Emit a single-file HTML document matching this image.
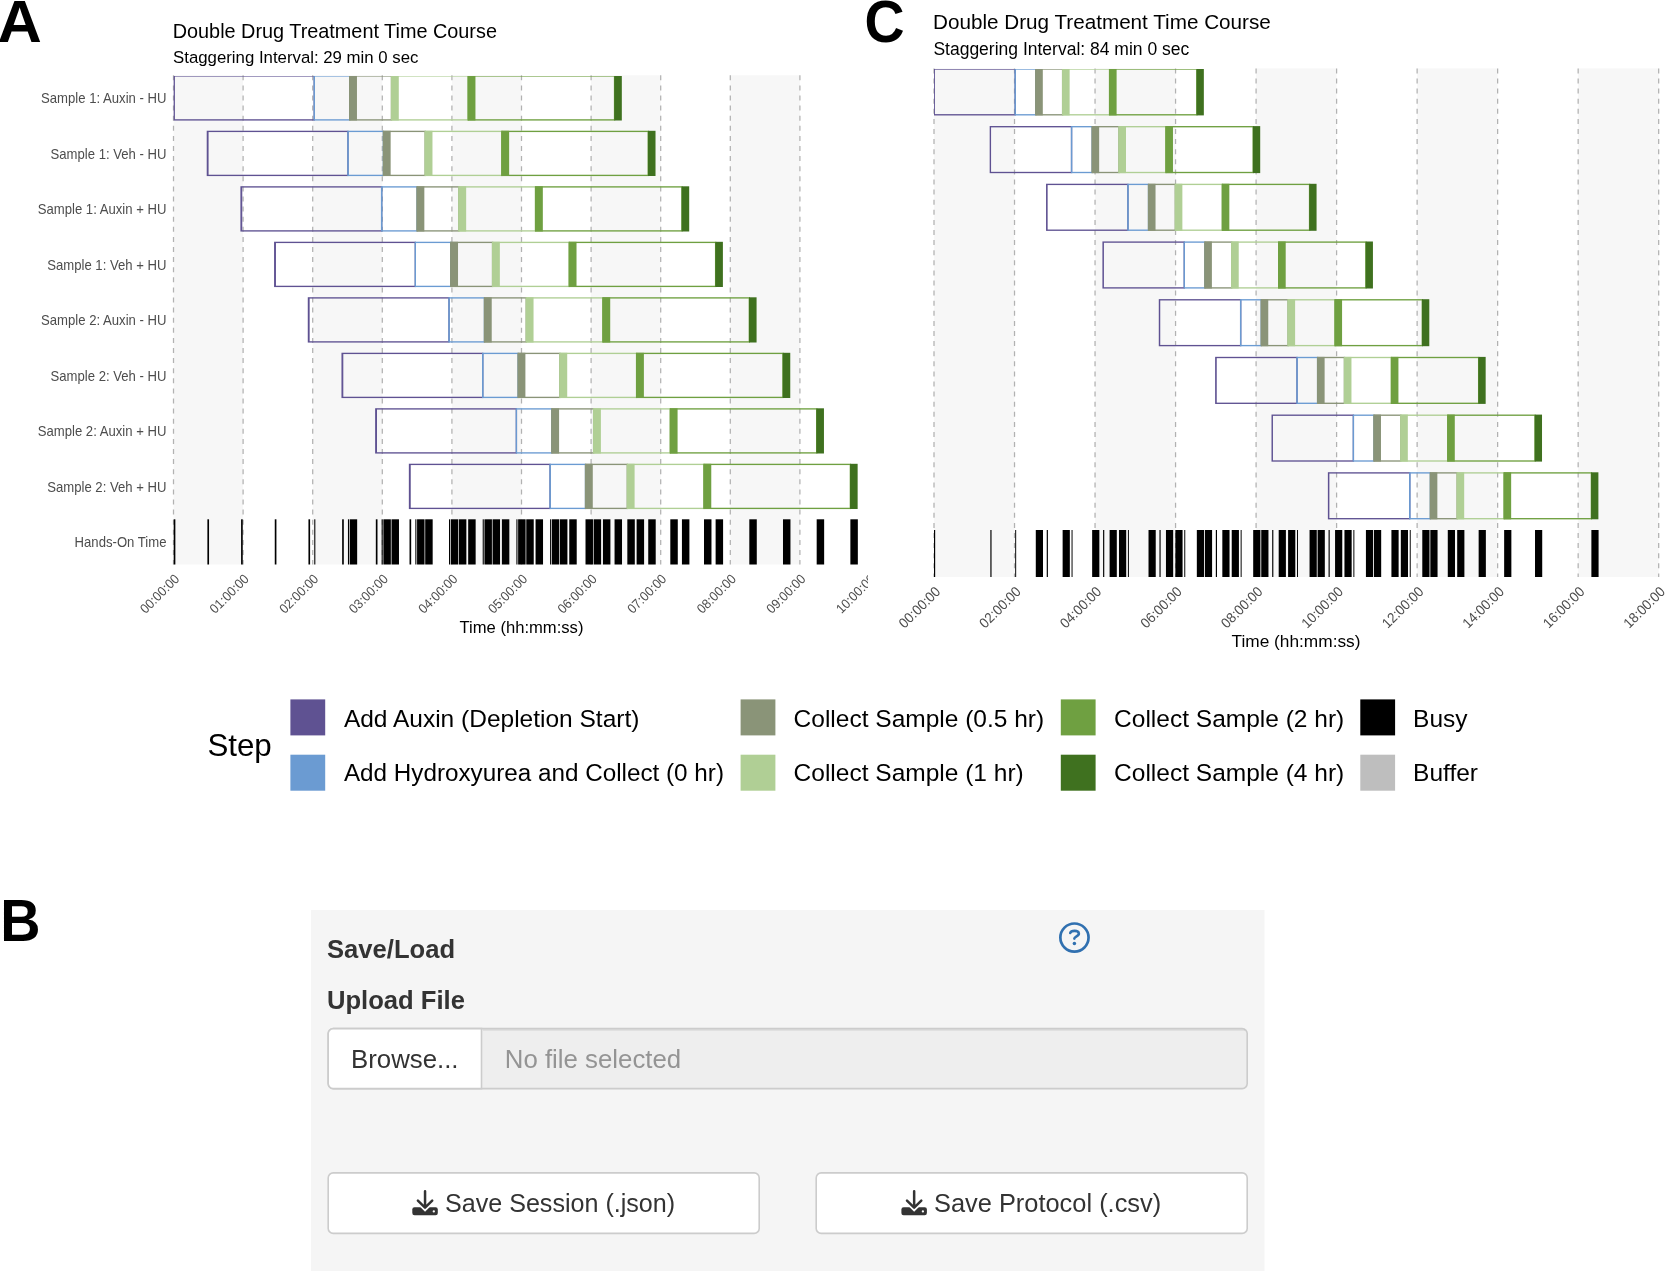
<!DOCTYPE html>
<html><head><meta charset="utf-8"><title>Figure</title>
<style>
html,body{margin:0;padding:0;background:#fff;}
body{width:1665px;height:1271px;overflow:hidden;font-family:"Liberation Sans",sans-serif;}
svg{display:block;font-family:"Liberation Sans",sans-serif;will-change:transform;}
</style></head><body>
<svg width="1665" height="1271" viewBox="0 0 1665 1271">
<rect width="1665" height="1271" fill="#fff"/>
<defs><clipPath id="clipA"><rect x="0" y="0" width="868" height="660"/></clipPath></defs>

<text transform="translate(-2.6,41.5) scale(1.04,1)" font-size="59" font-weight="700" fill="#000">A</text>
<text transform="translate(864.6,41.5) scale(0.94,1)" font-size="59" font-weight="700" fill="#000">C</text>
<text transform="translate(0.3,940.9) scale(0.95,1)" font-size="58.7" font-weight="700" fill="#000">B</text>
<g clip-path="url(#clipA)">
<g>
<rect x="173.50" y="75.30" width="69.60" height="489.20" fill="#f7f7f7"/>
<rect x="312.70" y="75.30" width="69.60" height="489.20" fill="#f7f7f7"/>
<rect x="451.90" y="75.30" width="69.60" height="489.20" fill="#f7f7f7"/>
<rect x="591.10" y="75.30" width="69.60" height="489.20" fill="#f7f7f7"/>
<rect x="730.30" y="75.30" width="69.60" height="489.20" fill="#f7f7f7"/>
<line x1="173.50" y1="75.30" x2="173.50" y2="564.50" stroke="#b2b2b2" stroke-width="1.25" stroke-dasharray="5 5.1"/>
<line x1="243.10" y1="75.30" x2="243.10" y2="564.50" stroke="#b2b2b2" stroke-width="1.25" stroke-dasharray="5 5.1"/>
<line x1="312.70" y1="75.30" x2="312.70" y2="564.50" stroke="#b2b2b2" stroke-width="1.25" stroke-dasharray="5 5.1"/>
<line x1="382.30" y1="75.30" x2="382.30" y2="564.50" stroke="#b2b2b2" stroke-width="1.25" stroke-dasharray="5 5.1"/>
<line x1="451.90" y1="75.30" x2="451.90" y2="564.50" stroke="#b2b2b2" stroke-width="1.25" stroke-dasharray="5 5.1"/>
<line x1="521.50" y1="75.30" x2="521.50" y2="564.50" stroke="#b2b2b2" stroke-width="1.25" stroke-dasharray="5 5.1"/>
<line x1="591.10" y1="75.30" x2="591.10" y2="564.50" stroke="#b2b2b2" stroke-width="1.25" stroke-dasharray="5 5.1"/>
<line x1="660.70" y1="75.30" x2="660.70" y2="564.50" stroke="#b2b2b2" stroke-width="1.25" stroke-dasharray="5 5.1"/>
<line x1="730.30" y1="75.30" x2="730.30" y2="564.50" stroke="#b2b2b2" stroke-width="1.25" stroke-dasharray="5 5.1"/>
<line x1="799.90" y1="75.30" x2="799.90" y2="564.50" stroke="#b2b2b2" stroke-width="1.25" stroke-dasharray="5 5.1"/>
<clipPath id="pc173"><rect x="173.70" y="75.90" width="699.30" height="489.20"/></clipPath>
<g clip-path="url(#pc173)">
<rect x="173.70" y="75.90" width="140.56" height="44.00" fill="none" stroke="#5f5292" stroke-width="1.35" stroke-opacity="1"/>
<rect x="173.70" y="75.90" width="1.16" height="44.00" fill="#5f5292" fill-opacity="1"/>
<rect x="314.26" y="75.90" width="35.43" height="44.00" fill="none" stroke="#6b9bd2" stroke-width="1.35" stroke-opacity="1"/>
<rect x="314.26" y="75.90" width="0.58" height="44.00" fill="#6b9bd2" fill-opacity="1"/>
<rect x="349.69" y="75.90" width="41.82" height="44.00" fill="none" stroke="#8a9478" stroke-width="1.35" stroke-opacity="1"/>
<rect x="349.39" y="75.30" width="7.57" height="45.20" fill="#8a9478"/>
<rect x="391.51" y="75.90" width="76.67" height="44.00" fill="none" stroke="#b0cf95" stroke-width="1.35" stroke-opacity="1"/>
<rect x="391.21" y="75.30" width="7.57" height="45.20" fill="#b0cf95"/>
<rect x="468.18" y="75.90" width="146.37" height="44.00" fill="none" stroke="#6fa041" stroke-width="1.35" stroke-opacity="1"/>
<rect x="467.88" y="75.30" width="7.57" height="45.20" fill="#6fa041"/>
<rect x="614.25" y="75.30" width="7.57" height="45.20" fill="#3f711f"/>
<rect x="207.39" y="131.40" width="140.56" height="44.00" fill="none" stroke="#5f5292" stroke-width="1.35" stroke-opacity="1"/>
<rect x="207.39" y="131.40" width="1.16" height="44.00" fill="#5f5292" fill-opacity="1"/>
<rect x="347.95" y="131.40" width="35.43" height="44.00" fill="none" stroke="#6b9bd2" stroke-width="1.35" stroke-opacity="1"/>
<rect x="347.95" y="131.40" width="0.58" height="44.00" fill="#6b9bd2" fill-opacity="1"/>
<rect x="383.38" y="131.40" width="41.82" height="44.00" fill="none" stroke="#8a9478" stroke-width="1.35" stroke-opacity="1"/>
<rect x="383.08" y="130.80" width="7.57" height="45.20" fill="#8a9478"/>
<rect x="425.20" y="131.40" width="76.67" height="44.00" fill="none" stroke="#b0cf95" stroke-width="1.35" stroke-opacity="1"/>
<rect x="424.90" y="130.80" width="7.57" height="45.20" fill="#b0cf95"/>
<rect x="501.87" y="131.40" width="146.37" height="44.00" fill="none" stroke="#6fa041" stroke-width="1.35" stroke-opacity="1"/>
<rect x="501.57" y="130.80" width="7.57" height="45.20" fill="#6fa041"/>
<rect x="647.94" y="130.80" width="7.57" height="45.20" fill="#3f711f"/>
<rect x="241.08" y="186.90" width="140.56" height="44.00" fill="none" stroke="#5f5292" stroke-width="1.35" stroke-opacity="1"/>
<rect x="241.08" y="186.90" width="1.16" height="44.00" fill="#5f5292" fill-opacity="1"/>
<rect x="381.64" y="186.90" width="35.43" height="44.00" fill="none" stroke="#6b9bd2" stroke-width="1.35" stroke-opacity="1"/>
<rect x="381.64" y="186.90" width="0.58" height="44.00" fill="#6b9bd2" fill-opacity="1"/>
<rect x="417.07" y="186.90" width="41.82" height="44.00" fill="none" stroke="#8a9478" stroke-width="1.35" stroke-opacity="1"/>
<rect x="416.77" y="186.30" width="7.57" height="45.20" fill="#8a9478"/>
<rect x="458.89" y="186.90" width="76.67" height="44.00" fill="none" stroke="#b0cf95" stroke-width="1.35" stroke-opacity="1"/>
<rect x="458.59" y="186.30" width="7.57" height="45.20" fill="#b0cf95"/>
<rect x="535.56" y="186.90" width="146.37" height="44.00" fill="none" stroke="#6fa041" stroke-width="1.35" stroke-opacity="1"/>
<rect x="535.26" y="186.30" width="7.57" height="45.20" fill="#6fa041"/>
<rect x="681.63" y="186.30" width="7.57" height="45.20" fill="#3f711f"/>
<rect x="274.76" y="242.40" width="140.56" height="44.00" fill="none" stroke="#5f5292" stroke-width="1.35" stroke-opacity="1"/>
<rect x="274.76" y="242.40" width="1.16" height="44.00" fill="#5f5292" fill-opacity="1"/>
<rect x="415.33" y="242.40" width="35.43" height="44.00" fill="none" stroke="#6b9bd2" stroke-width="1.35" stroke-opacity="1"/>
<rect x="415.33" y="242.40" width="0.58" height="44.00" fill="#6b9bd2" fill-opacity="1"/>
<rect x="450.76" y="242.40" width="41.82" height="44.00" fill="none" stroke="#8a9478" stroke-width="1.35" stroke-opacity="1"/>
<rect x="450.46" y="241.80" width="7.57" height="45.20" fill="#8a9478"/>
<rect x="492.58" y="242.40" width="76.67" height="44.00" fill="none" stroke="#b0cf95" stroke-width="1.35" stroke-opacity="1"/>
<rect x="492.28" y="241.80" width="7.57" height="45.20" fill="#b0cf95"/>
<rect x="569.25" y="242.40" width="146.37" height="44.00" fill="none" stroke="#6fa041" stroke-width="1.35" stroke-opacity="1"/>
<rect x="568.95" y="241.80" width="7.57" height="45.20" fill="#6fa041"/>
<rect x="715.32" y="241.80" width="7.57" height="45.20" fill="#3f711f"/>
<rect x="308.45" y="297.90" width="140.56" height="44.00" fill="none" stroke="#5f5292" stroke-width="1.35" stroke-opacity="1"/>
<rect x="308.45" y="297.90" width="1.16" height="44.00" fill="#5f5292" fill-opacity="1"/>
<rect x="449.01" y="297.90" width="35.43" height="44.00" fill="none" stroke="#6b9bd2" stroke-width="1.35" stroke-opacity="1"/>
<rect x="449.01" y="297.90" width="0.58" height="44.00" fill="#6b9bd2" fill-opacity="1"/>
<rect x="484.45" y="297.90" width="41.82" height="44.00" fill="none" stroke="#8a9478" stroke-width="1.35" stroke-opacity="1"/>
<rect x="484.15" y="297.30" width="7.57" height="45.20" fill="#8a9478"/>
<rect x="526.27" y="297.90" width="76.67" height="44.00" fill="none" stroke="#b0cf95" stroke-width="1.35" stroke-opacity="1"/>
<rect x="525.97" y="297.30" width="7.57" height="45.20" fill="#b0cf95"/>
<rect x="602.94" y="297.90" width="146.37" height="44.00" fill="none" stroke="#6fa041" stroke-width="1.35" stroke-opacity="1"/>
<rect x="602.64" y="297.30" width="7.57" height="45.20" fill="#6fa041"/>
<rect x="749.01" y="297.30" width="7.57" height="45.20" fill="#3f711f"/>
<rect x="342.14" y="353.40" width="140.56" height="44.00" fill="none" stroke="#5f5292" stroke-width="1.35" stroke-opacity="1"/>
<rect x="342.14" y="353.40" width="1.16" height="44.00" fill="#5f5292" fill-opacity="1"/>
<rect x="482.70" y="353.40" width="35.43" height="44.00" fill="none" stroke="#6b9bd2" stroke-width="1.35" stroke-opacity="1"/>
<rect x="482.70" y="353.40" width="0.58" height="44.00" fill="#6b9bd2" fill-opacity="1"/>
<rect x="518.13" y="353.40" width="41.82" height="44.00" fill="none" stroke="#8a9478" stroke-width="1.35" stroke-opacity="1"/>
<rect x="517.83" y="352.80" width="7.57" height="45.20" fill="#8a9478"/>
<rect x="559.95" y="353.40" width="76.67" height="44.00" fill="none" stroke="#b0cf95" stroke-width="1.35" stroke-opacity="1"/>
<rect x="559.65" y="352.80" width="7.57" height="45.20" fill="#b0cf95"/>
<rect x="636.62" y="353.40" width="146.37" height="44.00" fill="none" stroke="#6fa041" stroke-width="1.35" stroke-opacity="1"/>
<rect x="636.32" y="352.80" width="7.57" height="45.20" fill="#6fa041"/>
<rect x="782.69" y="352.80" width="7.57" height="45.20" fill="#3f711f"/>
<rect x="375.83" y="408.90" width="140.56" height="44.00" fill="none" stroke="#5f5292" stroke-width="1.35" stroke-opacity="1"/>
<rect x="375.83" y="408.90" width="1.16" height="44.00" fill="#5f5292" fill-opacity="1"/>
<rect x="516.39" y="408.90" width="35.43" height="44.00" fill="none" stroke="#6b9bd2" stroke-width="1.35" stroke-opacity="1"/>
<rect x="516.39" y="408.90" width="0.58" height="44.00" fill="#6b9bd2" fill-opacity="1"/>
<rect x="551.82" y="408.90" width="41.82" height="44.00" fill="none" stroke="#8a9478" stroke-width="1.35" stroke-opacity="1"/>
<rect x="551.52" y="408.30" width="7.57" height="45.20" fill="#8a9478"/>
<rect x="593.64" y="408.90" width="76.67" height="44.00" fill="none" stroke="#b0cf95" stroke-width="1.35" stroke-opacity="1"/>
<rect x="593.34" y="408.30" width="7.57" height="45.20" fill="#b0cf95"/>
<rect x="670.31" y="408.90" width="146.37" height="44.00" fill="none" stroke="#6fa041" stroke-width="1.35" stroke-opacity="1"/>
<rect x="670.01" y="408.30" width="7.57" height="45.20" fill="#6fa041"/>
<rect x="816.38" y="408.30" width="7.57" height="45.20" fill="#3f711f"/>
<rect x="409.52" y="464.40" width="140.56" height="44.00" fill="none" stroke="#5f5292" stroke-width="1.35" stroke-opacity="1"/>
<rect x="409.52" y="464.40" width="1.16" height="44.00" fill="#5f5292" fill-opacity="1"/>
<rect x="550.08" y="464.40" width="35.43" height="44.00" fill="none" stroke="#6b9bd2" stroke-width="1.35" stroke-opacity="1"/>
<rect x="550.08" y="464.40" width="0.58" height="44.00" fill="#6b9bd2" fill-opacity="1"/>
<rect x="585.51" y="464.40" width="41.82" height="44.00" fill="none" stroke="#8a9478" stroke-width="1.35" stroke-opacity="1"/>
<rect x="585.21" y="463.80" width="7.57" height="45.20" fill="#8a9478"/>
<rect x="627.33" y="464.40" width="76.67" height="44.00" fill="none" stroke="#b0cf95" stroke-width="1.35" stroke-opacity="1"/>
<rect x="627.03" y="463.80" width="7.57" height="45.20" fill="#b0cf95"/>
<rect x="704.00" y="464.40" width="146.37" height="44.00" fill="none" stroke="#6fa041" stroke-width="1.35" stroke-opacity="1"/>
<rect x="703.70" y="463.80" width="7.57" height="45.20" fill="#6fa041"/>
<rect x="850.07" y="463.80" width="7.57" height="45.20" fill="#3f711f"/>
</g>
<rect x="173.70" y="519.30" width="1.66" height="45.20" fill="#000"/>
<rect x="207.39" y="519.30" width="1.66" height="45.20" fill="#000"/>
<rect x="241.08" y="519.30" width="1.66" height="45.20" fill="#000"/>
<rect x="274.76" y="519.30" width="1.66" height="45.20" fill="#000"/>
<rect x="308.45" y="519.30" width="1.66" height="45.20" fill="#000"/>
<rect x="314.26" y="519.30" width="1.08" height="45.20" fill="#000"/>
<rect x="342.14" y="519.30" width="1.66" height="45.20" fill="#000"/>
<rect x="347.95" y="519.30" width="1.08" height="45.20" fill="#000"/>
<rect x="349.69" y="519.30" width="7.47" height="45.20" fill="#000"/>
<rect x="375.83" y="519.30" width="1.66" height="45.20" fill="#000"/>
<rect x="381.64" y="519.30" width="1.08" height="45.20" fill="#000"/>
<rect x="383.38" y="519.30" width="7.47" height="45.20" fill="#000"/>
<rect x="391.51" y="519.30" width="7.47" height="45.20" fill="#000"/>
<rect x="409.52" y="519.30" width="1.66" height="45.20" fill="#000"/>
<rect x="415.33" y="519.30" width="1.08" height="45.20" fill="#000"/>
<rect x="417.07" y="519.30" width="7.47" height="45.20" fill="#000"/>
<rect x="425.20" y="519.30" width="7.47" height="45.20" fill="#000"/>
<rect x="449.01" y="519.30" width="1.08" height="45.20" fill="#000"/>
<rect x="450.76" y="519.30" width="7.47" height="45.20" fill="#000"/>
<rect x="458.89" y="519.30" width="7.47" height="45.20" fill="#000"/>
<rect x="468.18" y="519.30" width="7.47" height="45.20" fill="#000"/>
<rect x="482.70" y="519.30" width="1.08" height="45.20" fill="#000"/>
<rect x="484.45" y="519.30" width="7.47" height="45.20" fill="#000"/>
<rect x="492.58" y="519.30" width="7.47" height="45.20" fill="#000"/>
<rect x="501.87" y="519.30" width="7.47" height="45.20" fill="#000"/>
<rect x="516.39" y="519.30" width="1.08" height="45.20" fill="#000"/>
<rect x="518.13" y="519.30" width="7.47" height="45.20" fill="#000"/>
<rect x="526.27" y="519.30" width="7.47" height="45.20" fill="#000"/>
<rect x="535.56" y="519.30" width="7.47" height="45.20" fill="#000"/>
<rect x="550.08" y="519.30" width="1.08" height="45.20" fill="#000"/>
<rect x="551.82" y="519.30" width="7.47" height="45.20" fill="#000"/>
<rect x="559.95" y="519.30" width="7.47" height="45.20" fill="#000"/>
<rect x="569.25" y="519.30" width="7.47" height="45.20" fill="#000"/>
<rect x="585.51" y="519.30" width="7.47" height="45.20" fill="#000"/>
<rect x="593.64" y="519.30" width="7.47" height="45.20" fill="#000"/>
<rect x="602.94" y="519.30" width="7.47" height="45.20" fill="#000"/>
<rect x="614.55" y="519.30" width="7.47" height="45.20" fill="#000"/>
<rect x="627.33" y="519.30" width="7.47" height="45.20" fill="#000"/>
<rect x="636.62" y="519.30" width="7.47" height="45.20" fill="#000"/>
<rect x="648.24" y="519.30" width="7.47" height="45.20" fill="#000"/>
<rect x="670.31" y="519.30" width="7.47" height="45.20" fill="#000"/>
<rect x="681.93" y="519.30" width="7.47" height="45.20" fill="#000"/>
<rect x="704.00" y="519.30" width="7.47" height="45.20" fill="#000"/>
<rect x="715.62" y="519.30" width="7.47" height="45.20" fill="#000"/>
<rect x="749.31" y="519.30" width="7.47" height="45.20" fill="#000"/>
<rect x="782.99" y="519.30" width="7.47" height="45.20" fill="#000"/>
<rect x="816.68" y="519.30" width="7.47" height="45.20" fill="#000"/>
<rect x="850.37" y="519.30" width="7.47" height="45.20" fill="#000"/>
<text transform="translate(166.50,103.20) scale(0.915,1)" font-size="14.35" fill="#4d4d4d" text-anchor="end">Sample 1: Auxin - HU</text>
<text transform="translate(166.50,158.70) scale(0.915,1)" font-size="14.35" fill="#4d4d4d" text-anchor="end">Sample 1: Veh - HU</text>
<text transform="translate(166.50,214.20) scale(0.915,1)" font-size="14.35" fill="#4d4d4d" text-anchor="end">Sample 1: Auxin + HU</text>
<text transform="translate(166.50,269.70) scale(0.915,1)" font-size="14.35" fill="#4d4d4d" text-anchor="end">Sample 1: Veh + HU</text>
<text transform="translate(166.50,325.20) scale(0.915,1)" font-size="14.35" fill="#4d4d4d" text-anchor="end">Sample 2: Auxin - HU</text>
<text transform="translate(166.50,380.70) scale(0.915,1)" font-size="14.35" fill="#4d4d4d" text-anchor="end">Sample 2: Veh - HU</text>
<text transform="translate(166.50,436.20) scale(0.915,1)" font-size="14.35" fill="#4d4d4d" text-anchor="end">Sample 2: Auxin + HU</text>
<text transform="translate(166.50,491.70) scale(0.915,1)" font-size="14.35" fill="#4d4d4d" text-anchor="end">Sample 2: Veh + HU</text>
<text transform="translate(166.50,547.20) scale(0.915,1)" font-size="14.35" fill="#4d4d4d" text-anchor="end">Hands-On Time</text>
<text transform="translate(180.10,579.70) rotate(-45) scale(0.94,1)" font-size="13.4" fill="#4d4d4d" text-anchor="end">00:00:00</text>
<text transform="translate(249.70,579.70) rotate(-45) scale(0.94,1)" font-size="13.4" fill="#4d4d4d" text-anchor="end">01:00:00</text>
<text transform="translate(319.30,579.70) rotate(-45) scale(0.94,1)" font-size="13.4" fill="#4d4d4d" text-anchor="end">02:00:00</text>
<text transform="translate(388.90,579.70) rotate(-45) scale(0.94,1)" font-size="13.4" fill="#4d4d4d" text-anchor="end">03:00:00</text>
<text transform="translate(458.50,579.70) rotate(-45) scale(0.94,1)" font-size="13.4" fill="#4d4d4d" text-anchor="end">04:00:00</text>
<text transform="translate(528.10,579.70) rotate(-45) scale(0.94,1)" font-size="13.4" fill="#4d4d4d" text-anchor="end">05:00:00</text>
<text transform="translate(597.70,579.70) rotate(-45) scale(0.94,1)" font-size="13.4" fill="#4d4d4d" text-anchor="end">06:00:00</text>
<text transform="translate(667.30,579.70) rotate(-45) scale(0.94,1)" font-size="13.4" fill="#4d4d4d" text-anchor="end">07:00:00</text>
<text transform="translate(736.90,579.70) rotate(-45) scale(0.94,1)" font-size="13.4" fill="#4d4d4d" text-anchor="end">08:00:00</text>
<text transform="translate(806.50,579.70) rotate(-45) scale(0.94,1)" font-size="13.4" fill="#4d4d4d" text-anchor="end">09:00:00</text>
<text transform="translate(876.10,579.70) rotate(-45) scale(0.94,1)" font-size="13.4" fill="#4d4d4d" text-anchor="end">10:00:00</text>
<text x="172.70" y="37.5" font-size="19.85" fill="#000">Double Drug Treatment Time Course</text>
<text x="173.10" y="63" font-size="16.80" fill="#000">Staggering Interval: 29 min 0 sec</text>
<text x="521.5" y="632.5" font-size="16.60" fill="#000" text-anchor="middle">Time (hh:mm:ss)</text>
</g>
</g>
<g>
<rect x="934.00" y="68.40" width="80.52" height="508.60" fill="#f7f7f7"/>
<rect x="1095.04" y="68.40" width="80.52" height="508.60" fill="#f7f7f7"/>
<rect x="1256.08" y="68.40" width="80.52" height="508.60" fill="#f7f7f7"/>
<rect x="1417.12" y="68.40" width="80.52" height="508.60" fill="#f7f7f7"/>
<rect x="1578.16" y="68.40" width="80.52" height="508.60" fill="#f7f7f7"/>
<line x1="934.00" y1="68.40" x2="934.00" y2="577.00" stroke="#b2b2b2" stroke-width="1.25" stroke-dasharray="5 5.1"/>
<line x1="1014.52" y1="68.40" x2="1014.52" y2="577.00" stroke="#b2b2b2" stroke-width="1.25" stroke-dasharray="5 5.1"/>
<line x1="1095.04" y1="68.40" x2="1095.04" y2="577.00" stroke="#b2b2b2" stroke-width="1.25" stroke-dasharray="5 5.1"/>
<line x1="1175.56" y1="68.40" x2="1175.56" y2="577.00" stroke="#b2b2b2" stroke-width="1.25" stroke-dasharray="5 5.1"/>
<line x1="1256.08" y1="68.40" x2="1256.08" y2="577.00" stroke="#b2b2b2" stroke-width="1.25" stroke-dasharray="5 5.1"/>
<line x1="1336.60" y1="68.40" x2="1336.60" y2="577.00" stroke="#b2b2b2" stroke-width="1.25" stroke-dasharray="5 5.1"/>
<line x1="1417.12" y1="68.40" x2="1417.12" y2="577.00" stroke="#b2b2b2" stroke-width="1.25" stroke-dasharray="5 5.1"/>
<line x1="1497.64" y1="68.40" x2="1497.64" y2="577.00" stroke="#b2b2b2" stroke-width="1.25" stroke-dasharray="5 5.1"/>
<line x1="1578.16" y1="68.40" x2="1578.16" y2="577.00" stroke="#b2b2b2" stroke-width="1.25" stroke-dasharray="5 5.1"/>
<line x1="1658.68" y1="68.40" x2="1658.68" y2="577.00" stroke="#b2b2b2" stroke-width="1.25" stroke-dasharray="5 5.1"/>
<clipPath id="pc934"><rect x="934.00" y="69.00" width="730.30" height="508.60"/></clipPath>
<g clip-path="url(#pc934)">
<rect x="934.00" y="69.00" width="81.19" height="45.80" fill="none" stroke="#5f5292" stroke-width="1.35" stroke-opacity="1"/>
<rect x="934.00" y="69.00" width="0.67" height="45.80" fill="#5f5292" fill-opacity="1"/>
<rect x="1015.19" y="69.00" width="20.60" height="45.80" fill="none" stroke="#6b9bd2" stroke-width="1.35" stroke-opacity="1"/>
<rect x="1015.19" y="69.00" width="0.47" height="45.80" fill="#6b9bd2" fill-opacity="1"/>
<rect x="1035.79" y="69.00" width="26.84" height="45.80" fill="none" stroke="#8a9478" stroke-width="1.35" stroke-opacity="1"/>
<rect x="1035.49" y="68.40" width="7.31" height="47.00" fill="#8a9478"/>
<rect x="1062.63" y="69.00" width="46.97" height="45.80" fill="none" stroke="#b0cf95" stroke-width="1.35" stroke-opacity="1"/>
<rect x="1062.33" y="68.40" width="7.31" height="47.00" fill="#b0cf95"/>
<rect x="1109.60" y="69.00" width="87.23" height="45.80" fill="none" stroke="#6fa041" stroke-width="1.35" stroke-opacity="1"/>
<rect x="1109.30" y="68.40" width="7.31" height="47.00" fill="#6fa041"/>
<rect x="1196.53" y="68.40" width="7.31" height="47.00" fill="#3f711f"/>
<rect x="990.36" y="126.70" width="81.19" height="45.80" fill="none" stroke="#5f5292" stroke-width="1.35" stroke-opacity="1"/>
<rect x="990.36" y="126.70" width="0.67" height="45.80" fill="#5f5292" fill-opacity="1"/>
<rect x="1071.56" y="126.70" width="20.60" height="45.80" fill="none" stroke="#6b9bd2" stroke-width="1.35" stroke-opacity="1"/>
<rect x="1071.56" y="126.70" width="0.47" height="45.80" fill="#6b9bd2" fill-opacity="1"/>
<rect x="1092.15" y="126.70" width="26.84" height="45.80" fill="none" stroke="#8a9478" stroke-width="1.35" stroke-opacity="1"/>
<rect x="1091.85" y="126.10" width="7.31" height="47.00" fill="#8a9478"/>
<rect x="1118.99" y="126.70" width="46.97" height="45.80" fill="none" stroke="#b0cf95" stroke-width="1.35" stroke-opacity="1"/>
<rect x="1118.69" y="126.10" width="7.31" height="47.00" fill="#b0cf95"/>
<rect x="1165.96" y="126.70" width="87.23" height="45.80" fill="none" stroke="#6fa041" stroke-width="1.35" stroke-opacity="1"/>
<rect x="1165.66" y="126.10" width="7.31" height="47.00" fill="#6fa041"/>
<rect x="1252.89" y="126.10" width="7.31" height="47.00" fill="#3f711f"/>
<rect x="1046.73" y="184.40" width="81.19" height="45.80" fill="none" stroke="#5f5292" stroke-width="1.35" stroke-opacity="1"/>
<rect x="1046.73" y="184.40" width="0.67" height="45.80" fill="#5f5292" fill-opacity="1"/>
<rect x="1127.92" y="184.40" width="20.60" height="45.80" fill="none" stroke="#6b9bd2" stroke-width="1.35" stroke-opacity="1"/>
<rect x="1127.92" y="184.40" width="0.47" height="45.80" fill="#6b9bd2" fill-opacity="1"/>
<rect x="1148.52" y="184.40" width="26.84" height="45.80" fill="none" stroke="#8a9478" stroke-width="1.35" stroke-opacity="1"/>
<rect x="1148.22" y="183.80" width="7.31" height="47.00" fill="#8a9478"/>
<rect x="1175.36" y="184.40" width="46.97" height="45.80" fill="none" stroke="#b0cf95" stroke-width="1.35" stroke-opacity="1"/>
<rect x="1175.06" y="183.80" width="7.31" height="47.00" fill="#b0cf95"/>
<rect x="1222.33" y="184.40" width="87.23" height="45.80" fill="none" stroke="#6fa041" stroke-width="1.35" stroke-opacity="1"/>
<rect x="1222.03" y="183.80" width="7.31" height="47.00" fill="#6fa041"/>
<rect x="1309.26" y="183.80" width="7.31" height="47.00" fill="#3f711f"/>
<rect x="1103.09" y="242.10" width="81.19" height="45.80" fill="none" stroke="#5f5292" stroke-width="1.35" stroke-opacity="1"/>
<rect x="1103.09" y="242.10" width="0.67" height="45.80" fill="#5f5292" fill-opacity="1"/>
<rect x="1184.28" y="242.10" width="20.60" height="45.80" fill="none" stroke="#6b9bd2" stroke-width="1.35" stroke-opacity="1"/>
<rect x="1184.28" y="242.10" width="0.47" height="45.80" fill="#6b9bd2" fill-opacity="1"/>
<rect x="1204.88" y="242.10" width="26.84" height="45.80" fill="none" stroke="#8a9478" stroke-width="1.35" stroke-opacity="1"/>
<rect x="1204.58" y="241.50" width="7.31" height="47.00" fill="#8a9478"/>
<rect x="1231.72" y="242.10" width="46.97" height="45.80" fill="none" stroke="#b0cf95" stroke-width="1.35" stroke-opacity="1"/>
<rect x="1231.42" y="241.50" width="7.31" height="47.00" fill="#b0cf95"/>
<rect x="1278.69" y="242.10" width="87.23" height="45.80" fill="none" stroke="#6fa041" stroke-width="1.35" stroke-opacity="1"/>
<rect x="1278.39" y="241.50" width="7.31" height="47.00" fill="#6fa041"/>
<rect x="1365.62" y="241.50" width="7.31" height="47.00" fill="#3f711f"/>
<rect x="1159.46" y="299.80" width="81.19" height="45.80" fill="none" stroke="#5f5292" stroke-width="1.35" stroke-opacity="1"/>
<rect x="1159.46" y="299.80" width="0.67" height="45.80" fill="#5f5292" fill-opacity="1"/>
<rect x="1240.65" y="299.80" width="20.60" height="45.80" fill="none" stroke="#6b9bd2" stroke-width="1.35" stroke-opacity="1"/>
<rect x="1240.65" y="299.80" width="0.47" height="45.80" fill="#6b9bd2" fill-opacity="1"/>
<rect x="1261.25" y="299.80" width="26.84" height="45.80" fill="none" stroke="#8a9478" stroke-width="1.35" stroke-opacity="1"/>
<rect x="1260.95" y="299.20" width="7.31" height="47.00" fill="#8a9478"/>
<rect x="1288.09" y="299.80" width="46.97" height="45.80" fill="none" stroke="#b0cf95" stroke-width="1.35" stroke-opacity="1"/>
<rect x="1287.79" y="299.20" width="7.31" height="47.00" fill="#b0cf95"/>
<rect x="1335.06" y="299.80" width="87.23" height="45.80" fill="none" stroke="#6fa041" stroke-width="1.35" stroke-opacity="1"/>
<rect x="1334.76" y="299.20" width="7.31" height="47.00" fill="#6fa041"/>
<rect x="1421.99" y="299.20" width="7.31" height="47.00" fill="#3f711f"/>
<rect x="1215.82" y="357.50" width="81.19" height="45.80" fill="none" stroke="#5f5292" stroke-width="1.35" stroke-opacity="1"/>
<rect x="1215.82" y="357.50" width="0.67" height="45.80" fill="#5f5292" fill-opacity="1"/>
<rect x="1297.01" y="357.50" width="20.60" height="45.80" fill="none" stroke="#6b9bd2" stroke-width="1.35" stroke-opacity="1"/>
<rect x="1297.01" y="357.50" width="0.47" height="45.80" fill="#6b9bd2" fill-opacity="1"/>
<rect x="1317.61" y="357.50" width="26.84" height="45.80" fill="none" stroke="#8a9478" stroke-width="1.35" stroke-opacity="1"/>
<rect x="1317.31" y="356.90" width="7.31" height="47.00" fill="#8a9478"/>
<rect x="1344.45" y="357.50" width="46.97" height="45.80" fill="none" stroke="#b0cf95" stroke-width="1.35" stroke-opacity="1"/>
<rect x="1344.15" y="356.90" width="7.31" height="47.00" fill="#b0cf95"/>
<rect x="1391.42" y="357.50" width="87.23" height="45.80" fill="none" stroke="#6fa041" stroke-width="1.35" stroke-opacity="1"/>
<rect x="1391.12" y="356.90" width="7.31" height="47.00" fill="#6fa041"/>
<rect x="1478.35" y="356.90" width="7.31" height="47.00" fill="#3f711f"/>
<rect x="1272.18" y="415.20" width="81.19" height="45.80" fill="none" stroke="#5f5292" stroke-width="1.35" stroke-opacity="1"/>
<rect x="1272.18" y="415.20" width="0.67" height="45.80" fill="#5f5292" fill-opacity="1"/>
<rect x="1353.38" y="415.20" width="20.60" height="45.80" fill="none" stroke="#6b9bd2" stroke-width="1.35" stroke-opacity="1"/>
<rect x="1353.38" y="415.20" width="0.47" height="45.80" fill="#6b9bd2" fill-opacity="1"/>
<rect x="1373.97" y="415.20" width="26.84" height="45.80" fill="none" stroke="#8a9478" stroke-width="1.35" stroke-opacity="1"/>
<rect x="1373.67" y="414.60" width="7.31" height="47.00" fill="#8a9478"/>
<rect x="1400.81" y="415.20" width="46.97" height="45.80" fill="none" stroke="#b0cf95" stroke-width="1.35" stroke-opacity="1"/>
<rect x="1400.51" y="414.60" width="7.31" height="47.00" fill="#b0cf95"/>
<rect x="1447.78" y="415.20" width="87.23" height="45.80" fill="none" stroke="#6fa041" stroke-width="1.35" stroke-opacity="1"/>
<rect x="1447.48" y="414.60" width="7.31" height="47.00" fill="#6fa041"/>
<rect x="1534.71" y="414.60" width="7.31" height="47.00" fill="#3f711f"/>
<rect x="1328.55" y="472.90" width="81.19" height="45.80" fill="none" stroke="#5f5292" stroke-width="1.35" stroke-opacity="1"/>
<rect x="1328.55" y="472.90" width="0.67" height="45.80" fill="#5f5292" fill-opacity="1"/>
<rect x="1409.74" y="472.90" width="20.60" height="45.80" fill="none" stroke="#6b9bd2" stroke-width="1.35" stroke-opacity="1"/>
<rect x="1409.74" y="472.90" width="0.47" height="45.80" fill="#6b9bd2" fill-opacity="1"/>
<rect x="1430.34" y="472.90" width="26.84" height="45.80" fill="none" stroke="#8a9478" stroke-width="1.35" stroke-opacity="1"/>
<rect x="1430.04" y="472.30" width="7.31" height="47.00" fill="#8a9478"/>
<rect x="1457.18" y="472.90" width="46.97" height="45.80" fill="none" stroke="#b0cf95" stroke-width="1.35" stroke-opacity="1"/>
<rect x="1456.88" y="472.30" width="7.31" height="47.00" fill="#b0cf95"/>
<rect x="1504.15" y="472.90" width="87.23" height="45.80" fill="none" stroke="#6fa041" stroke-width="1.35" stroke-opacity="1"/>
<rect x="1503.85" y="472.30" width="7.31" height="47.00" fill="#6fa041"/>
<rect x="1591.08" y="472.30" width="7.31" height="47.00" fill="#3f711f"/>
</g>
<rect x="934.00" y="530.00" width="1.17" height="47.00" fill="#000"/>
<rect x="990.36" y="530.00" width="1.17" height="47.00" fill="#000"/>
<rect x="1015.19" y="530.00" width="0.97" height="47.00" fill="#000"/>
<rect x="1035.79" y="530.00" width="7.21" height="47.00" fill="#000"/>
<rect x="1046.73" y="530.00" width="1.17" height="47.00" fill="#000"/>
<rect x="1062.63" y="530.00" width="7.21" height="47.00" fill="#000"/>
<rect x="1071.56" y="530.00" width="0.97" height="47.00" fill="#000"/>
<rect x="1092.15" y="530.00" width="7.21" height="47.00" fill="#000"/>
<rect x="1103.09" y="530.00" width="1.17" height="47.00" fill="#000"/>
<rect x="1109.60" y="530.00" width="7.21" height="47.00" fill="#000"/>
<rect x="1118.99" y="530.00" width="7.21" height="47.00" fill="#000"/>
<rect x="1127.92" y="530.00" width="0.97" height="47.00" fill="#000"/>
<rect x="1148.52" y="530.00" width="7.21" height="47.00" fill="#000"/>
<rect x="1159.46" y="530.00" width="1.17" height="47.00" fill="#000"/>
<rect x="1165.96" y="530.00" width="7.21" height="47.00" fill="#000"/>
<rect x="1175.36" y="530.00" width="7.21" height="47.00" fill="#000"/>
<rect x="1184.28" y="530.00" width="0.97" height="47.00" fill="#000"/>
<rect x="1196.83" y="530.00" width="7.21" height="47.00" fill="#000"/>
<rect x="1204.88" y="530.00" width="7.21" height="47.00" fill="#000"/>
<rect x="1215.82" y="530.00" width="1.17" height="47.00" fill="#000"/>
<rect x="1222.33" y="530.00" width="7.21" height="47.00" fill="#000"/>
<rect x="1231.72" y="530.00" width="7.21" height="47.00" fill="#000"/>
<rect x="1240.65" y="530.00" width="0.97" height="47.00" fill="#000"/>
<rect x="1253.19" y="530.00" width="7.21" height="47.00" fill="#000"/>
<rect x="1261.25" y="530.00" width="7.21" height="47.00" fill="#000"/>
<rect x="1272.18" y="530.00" width="1.17" height="47.00" fill="#000"/>
<rect x="1278.69" y="530.00" width="7.21" height="47.00" fill="#000"/>
<rect x="1288.09" y="530.00" width="7.21" height="47.00" fill="#000"/>
<rect x="1297.01" y="530.00" width="0.97" height="47.00" fill="#000"/>
<rect x="1309.56" y="530.00" width="7.21" height="47.00" fill="#000"/>
<rect x="1317.61" y="530.00" width="7.21" height="47.00" fill="#000"/>
<rect x="1328.55" y="530.00" width="1.17" height="47.00" fill="#000"/>
<rect x="1335.06" y="530.00" width="7.21" height="47.00" fill="#000"/>
<rect x="1344.45" y="530.00" width="7.21" height="47.00" fill="#000"/>
<rect x="1353.38" y="530.00" width="0.97" height="47.00" fill="#000"/>
<rect x="1365.92" y="530.00" width="7.21" height="47.00" fill="#000"/>
<rect x="1373.97" y="530.00" width="7.21" height="47.00" fill="#000"/>
<rect x="1391.42" y="530.00" width="7.21" height="47.00" fill="#000"/>
<rect x="1400.81" y="530.00" width="7.21" height="47.00" fill="#000"/>
<rect x="1409.74" y="530.00" width="0.97" height="47.00" fill="#000"/>
<rect x="1422.29" y="530.00" width="7.21" height="47.00" fill="#000"/>
<rect x="1430.34" y="530.00" width="7.21" height="47.00" fill="#000"/>
<rect x="1447.78" y="530.00" width="7.21" height="47.00" fill="#000"/>
<rect x="1457.18" y="530.00" width="7.21" height="47.00" fill="#000"/>
<rect x="1478.65" y="530.00" width="7.21" height="47.00" fill="#000"/>
<rect x="1504.15" y="530.00" width="7.21" height="47.00" fill="#000"/>
<rect x="1535.01" y="530.00" width="7.21" height="47.00" fill="#000"/>
<rect x="1591.38" y="530.00" width="7.21" height="47.00" fill="#000"/>
<text transform="translate(941.30,592.40) rotate(-45) scale(0.94,1)" font-size="14.2" fill="#4d4d4d" text-anchor="end">00:00:00</text>
<text transform="translate(1021.82,592.40) rotate(-45) scale(0.94,1)" font-size="14.2" fill="#4d4d4d" text-anchor="end">02:00:00</text>
<text transform="translate(1102.34,592.40) rotate(-45) scale(0.94,1)" font-size="14.2" fill="#4d4d4d" text-anchor="end">04:00:00</text>
<text transform="translate(1182.86,592.40) rotate(-45) scale(0.94,1)" font-size="14.2" fill="#4d4d4d" text-anchor="end">06:00:00</text>
<text transform="translate(1263.38,592.40) rotate(-45) scale(0.94,1)" font-size="14.2" fill="#4d4d4d" text-anchor="end">08:00:00</text>
<text transform="translate(1343.90,592.40) rotate(-45) scale(0.94,1)" font-size="14.2" fill="#4d4d4d" text-anchor="end">10:00:00</text>
<text transform="translate(1424.42,592.40) rotate(-45) scale(0.94,1)" font-size="14.2" fill="#4d4d4d" text-anchor="end">12:00:00</text>
<text transform="translate(1504.94,592.40) rotate(-45) scale(0.94,1)" font-size="14.2" fill="#4d4d4d" text-anchor="end">14:00:00</text>
<text transform="translate(1585.46,592.40) rotate(-45) scale(0.94,1)" font-size="14.2" fill="#4d4d4d" text-anchor="end">16:00:00</text>
<text transform="translate(1665.98,592.40) rotate(-45) scale(0.94,1)" font-size="14.2" fill="#4d4d4d" text-anchor="end">18:00:00</text>
<text x="933.00" y="28.5" font-size="20.68" fill="#000">Double Drug Treatment Time Course</text>
<text x="933.40" y="55.4" font-size="17.51" fill="#000">Staggering Interval: 84 min 0 sec</text>
<text x="1296" y="647" font-size="17.30" fill="#000" text-anchor="middle">Time (hh:mm:ss)</text>
</g>
<text x="207.4" y="756.4" font-size="31.3" fill="#000">Step</text>
<rect x="290.4" y="699.4" width="34.8" height="36" fill="#5f5292"/>
<text x="343.9" y="726.7" font-size="24.5" fill="#000">Add Auxin (Depletion Start)</text>
<rect x="290.4" y="754.7" width="34.8" height="36" fill="#6b9bd2"/>
<text x="343.9" y="781.3" font-size="24.25" fill="#000">Add Hydroxyurea and Collect (0 hr)</text>
<rect x="740.6" y="699.4" width="34.8" height="36" fill="#8a9478"/>
<text x="793.6" y="726.7" font-size="24.5" fill="#000">Collect Sample (0.5 hr)</text>
<rect x="740.6" y="754.7" width="34.8" height="36" fill="#b0cf95"/>
<text x="793.6" y="781.3" font-size="24.5" fill="#000">Collect Sample (1 hr)</text>
<rect x="1060.8" y="699.4" width="34.8" height="36" fill="#6fa041"/>
<text x="1114.1" y="726.7" font-size="24.5" fill="#000">Collect Sample (2 hr)</text>
<rect x="1060.8" y="754.7" width="34.8" height="36" fill="#3f711f"/>
<text x="1114.1" y="781.3" font-size="24.5" fill="#000">Collect Sample (4 hr)</text>
<rect x="1360.3" y="699.4" width="34.8" height="36" fill="#000000"/>
<text x="1413.1" y="726.7" font-size="24.5" fill="#000">Busy</text>
<rect x="1360.3" y="754.7" width="34.8" height="36" fill="#bebebe"/>
<text x="1413.1" y="781.3" font-size="24.5" fill="#000">Buffer</text>
<g>
<rect x="311" y="910" width="953.5" height="365" fill="#f5f5f5"/>
<text x="327" y="957.6" font-size="25.6" font-weight="700" fill="#333">Save/Load</text>
<text x="327" y="1009.2" font-size="25.6" font-weight="700" fill="#333">Upload File</text>
<rect x="328.2" y="1028.6" width="919" height="60" rx="5" ry="5" fill="#eeeeee" stroke="#cccccc" stroke-width="1.6"/>
<path d="M333.2 1028.6 H481.5 V1088.6 H333.2 a5 5 0 0 1 -5 -5 V1033.6 a5 5 0 0 1 5 -5 Z" fill="#ffffff" stroke="#cccccc" stroke-width="1.6"/>
<line x1="483" y1="1030.2" x2="1245" y2="1030.2" stroke="#000" stroke-opacity="0.06" stroke-width="1.6"/>
<text x="351" y="1067.6" font-size="25.8" fill="#333">Browse...</text>
<text x="504.8" y="1067.6" font-size="25.8" fill="#949494">No file selected</text>
<rect x="328.2" y="1172.9" width="431" height="60.5" rx="5" ry="5" fill="#ffffff" stroke="#cccccc" stroke-width="1.6"/>
<rect x="816.2" y="1172.9" width="431" height="60.5" rx="5" ry="5" fill="#ffffff" stroke="#cccccc" stroke-width="1.6"/>
<text x="445.0" y="1212.2" font-size="25.1" fill="#333">Save Session (.json)</text>
<text x="934.0" y="1212.2" font-size="25.4" fill="#333">Save Protocol (.csv)</text>
<g transform="translate(412.3,1190)"><rect x="0" y="17.3" width="25.5" height="7.9" rx="2.2" ry="2.2" fill="#333"/><path d="M12.75 1.2V17.4M5.4 10.4L12.75 17.7L20.1 10.4" fill="none" stroke="#fff" stroke-width="5.6" stroke-linecap="butt" stroke-linejoin="miter"/><path d="M12.75 1.3V17.2M5.6 10.6L12.75 17.7L19.9 10.6" fill="none" stroke="#333" stroke-width="2.5" stroke-linecap="round" stroke-linejoin="round"/><circle cx="21.5" cy="21.4" r="1.15" fill="#fff"/></g>
<g transform="translate(901.4,1190)"><rect x="0" y="17.3" width="25.5" height="7.9" rx="2.2" ry="2.2" fill="#333"/><path d="M12.75 1.2V17.4M5.4 10.4L12.75 17.7L20.1 10.4" fill="none" stroke="#fff" stroke-width="5.6" stroke-linecap="butt" stroke-linejoin="miter"/><path d="M12.75 1.3V17.2M5.6 10.6L12.75 17.7L19.9 10.6" fill="none" stroke="#333" stroke-width="2.5" stroke-linecap="round" stroke-linejoin="round"/><circle cx="21.5" cy="21.4" r="1.15" fill="#fff"/></g>
<g transform="translate(1074.45,937.6)" fill="none" stroke="#3070b0" stroke-linecap="round" stroke-linejoin="round"><circle cx="0" cy="0" r="14.1" stroke-width="2.7"/><path d="M-4.2 -4.6C-3.4 -7.3 3.9 -7.6 4.4 -4.2C4.8 -1.4 -0.1 -1.3 -0.1 1.0" stroke-width="2.6"/><circle cx="-0.05" cy="5.9" r="1.75" fill="#3070b0" stroke="none"/></g>
</g>
</svg></body></html>
